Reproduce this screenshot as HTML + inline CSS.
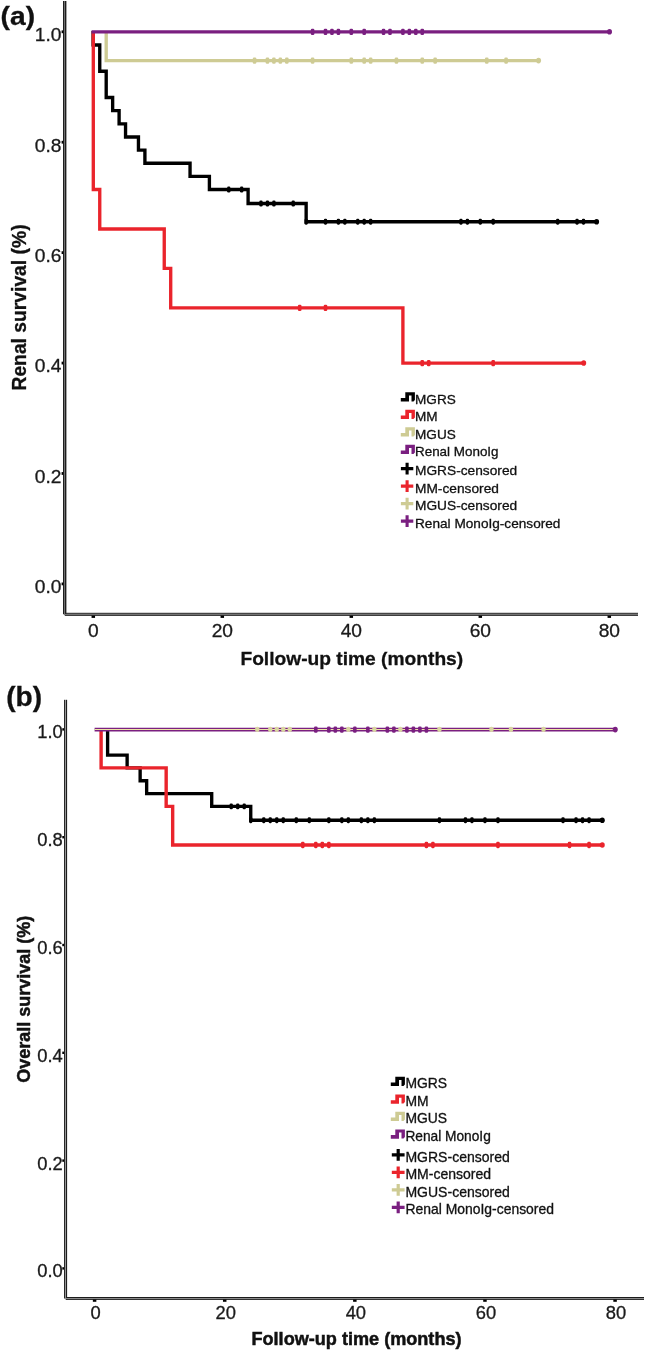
<!DOCTYPE html>
<html lang="en"><head><meta charset="utf-8"><title>Kaplan-Meier survival curves</title>
<style>html,body{margin:0;padding:0;background:#fff}svg{display:block;will-change:transform}text{font-family:"Liberation Sans",Arial,sans-serif}</style>
</head><body>
<svg width="645" height="1350" viewBox="0 0 645 1350">
<rect width="645" height="1350" fill="#fff"/>
<g>
<rect x="64.05" y="1" width="0.95" height="613.70" fill="#707070"/>
<rect x="64.05" y="613.80" width="573.95" height="0.9" fill="#707070"/>
<rect x="63.00" y="1" width="1.05" height="613.25" fill="#1e1e1e"/>
<rect x="64.75" y="614.70" width="573.25" height="1.15" fill="#1e1e1e"/>
<rect x="65.00" y="1" width="1.4" height="612.80" fill="#1e1e1e"/>
<rect x="65.00" y="612.80" width="573.00" height="1.0" fill="#1e1e1e"/>
</g>
<rect x="61.6" y="30.40" width="1.6" height="2.8" fill="#000"/>
<text transform="translate(61.4,41.2)" font-size="19.2" text-anchor="end" stroke="#1a1a1a" stroke-width="0.3" fill="#1a1a1a">1.0</text>
<rect x="61.6" y="140.82" width="1.6" height="2.8" fill="#000"/>
<text transform="translate(61.4,151.62)" font-size="19.2" text-anchor="end" stroke="#1a1a1a" stroke-width="0.3" fill="#1a1a1a">0.8</text>
<rect x="61.6" y="251.24" width="1.6" height="2.8" fill="#000"/>
<text transform="translate(61.4,262.04)" font-size="19.2" text-anchor="end" stroke="#1a1a1a" stroke-width="0.3" fill="#1a1a1a">0.6</text>
<rect x="61.6" y="361.66" width="1.6" height="2.8" fill="#000"/>
<text transform="translate(61.4,372.46)" font-size="19.2" text-anchor="end" stroke="#1a1a1a" stroke-width="0.3" fill="#1a1a1a">0.4</text>
<rect x="61.6" y="472.08" width="1.6" height="2.8" fill="#000"/>
<text transform="translate(61.4,482.88)" font-size="19.2" text-anchor="end" stroke="#1a1a1a" stroke-width="0.3" fill="#1a1a1a">0.2</text>
<rect x="61.6" y="582.50" width="1.6" height="2.8" fill="#000"/>
<text transform="translate(61.4,593.3)" font-size="19.2" text-anchor="end" stroke="#1a1a1a" stroke-width="0.3" fill="#1a1a1a">0.0</text>
<rect x="91.55" y="615.6" width="3.5" height="2.3" fill="#000"/>
<text transform="translate(93.3,636.6)" font-size="19.2" text-anchor="middle" stroke="#1a1a1a" stroke-width="0.3" fill="#1a1a1a">0</text>
<rect x="220.55" y="615.6" width="3.5" height="2.3" fill="#000"/>
<text transform="translate(222.3,636.6)" font-size="19.2" text-anchor="middle" stroke="#1a1a1a" stroke-width="0.3" fill="#1a1a1a">20</text>
<rect x="349.55" y="615.6" width="3.5" height="2.3" fill="#000"/>
<text transform="translate(351.3,636.6)" font-size="19.2" text-anchor="middle" stroke="#1a1a1a" stroke-width="0.3" fill="#1a1a1a">40</text>
<rect x="478.55" y="615.6" width="3.5" height="2.3" fill="#000"/>
<text transform="translate(480.3,636.6)" font-size="19.2" text-anchor="middle" stroke="#1a1a1a" stroke-width="0.3" fill="#1a1a1a">60</text>
<rect x="607.55" y="615.6" width="3.5" height="2.3" fill="#000"/>
<text transform="translate(609.3,636.6)" font-size="19.2" text-anchor="middle" stroke="#1a1a1a" stroke-width="0.3" fill="#1a1a1a">80</text>
<text transform="translate(0.6,25.1) scale(1.1,1)" font-size="25.6" font-weight="bold" stroke="#111" stroke-width="0.3" fill="#111">(a)</text>
<text transform="translate(26.2,307.5) rotate(-90)" font-size="19.3" text-anchor="middle" font-weight="bold" stroke="#111" stroke-width="0.3" fill="#111">Renal survival (%)</text>
<text transform="translate(351.8,665.0)" font-size="19.2" text-anchor="middle" font-weight="bold" stroke="#111" stroke-width="0.3" fill="#111">Follow-up time (months)</text>
<path d="M93.10 31.00V46.55" fill="none" stroke="#000000" stroke-width="3.35"/>
<path d="M92.98 44.95H99.75V71.24H106.20V97.53H112.65V110.67H119.10V123.82H125.55V136.96H138.45V150.11H144.90V163.25H190.05V176.40H209.40V189.54H248.10V203.50H306.15V221.72H596.40" fill="none" stroke="#000000" stroke-width="3.35"/>
<rect x="227.10" y="186.59" width="3.3" height="5.9" rx="1.3" fill="#000000"/>
<rect x="240.00" y="186.59" width="3.3" height="5.9" rx="1.3" fill="#000000"/>
<rect x="259.35" y="200.55" width="3.3" height="5.9" rx="1.3" fill="#000000"/>
<rect x="265.80" y="200.55" width="3.3" height="5.9" rx="1.3" fill="#000000"/>
<rect x="272.25" y="200.55" width="3.3" height="5.9" rx="1.3" fill="#000000"/>
<rect x="291.60" y="200.55" width="3.3" height="5.9" rx="1.3" fill="#000000"/>
<rect x="304.50" y="218.77" width="3.3" height="5.9" rx="1.3" fill="#000000"/>
<rect x="323.85" y="218.77" width="3.3" height="5.9" rx="1.3" fill="#000000"/>
<rect x="336.75" y="218.77" width="3.3" height="5.9" rx="1.3" fill="#000000"/>
<rect x="343.20" y="218.77" width="3.3" height="5.9" rx="1.3" fill="#000000"/>
<rect x="356.10" y="218.77" width="3.3" height="5.9" rx="1.3" fill="#000000"/>
<rect x="362.55" y="218.77" width="3.3" height="5.9" rx="1.3" fill="#000000"/>
<rect x="369.00" y="218.77" width="3.3" height="5.9" rx="1.3" fill="#000000"/>
<rect x="459.30" y="218.77" width="3.3" height="5.9" rx="1.3" fill="#000000"/>
<rect x="465.75" y="218.77" width="3.3" height="5.9" rx="1.3" fill="#000000"/>
<rect x="478.65" y="218.77" width="3.3" height="5.9" rx="1.3" fill="#000000"/>
<rect x="491.55" y="218.77" width="3.3" height="5.9" rx="1.3" fill="#000000"/>
<rect x="556.05" y="218.77" width="3.3" height="5.9" rx="1.3" fill="#000000"/>
<rect x="575.40" y="218.77" width="3.3" height="5.9" rx="1.3" fill="#000000"/>
<rect x="581.85" y="218.77" width="3.3" height="5.9" rx="1.3" fill="#000000"/>
<ellipse cx="596.60" cy="221.72" rx="2.5" ry="2.8" fill="#000000"/>
<path d="M93.30 31.80H93.30V189.54H99.75V228.98H164.25V268.41H170.70V307.85H402.90V363.06H583.50" fill="none" stroke="#ea242c" stroke-width="3.35"/>
<rect x="297.90" y="304.70" width="3.6" height="6.3" rx="1.3" fill="#ea242c"/>
<rect x="323.70" y="304.70" width="3.6" height="6.3" rx="1.3" fill="#ea242c"/>
<rect x="420.45" y="359.91" width="3.6" height="6.3" rx="1.3" fill="#ea242c"/>
<rect x="426.90" y="359.91" width="3.6" height="6.3" rx="1.3" fill="#ea242c"/>
<rect x="491.40" y="359.91" width="3.6" height="6.3" rx="1.3" fill="#ea242c"/>
<ellipse cx="583.70" cy="363.06" rx="2.5" ry="2.8" fill="#ea242c"/>
<path d="M106.20 32.80V60.60H538.35" fill="none" stroke="#cecb94" stroke-width="3.35"/>
<rect x="252.75" y="57.45" width="3.6" height="6.3" rx="1.3" fill="#cecb94"/>
<rect x="265.65" y="57.45" width="3.6" height="6.3" rx="1.3" fill="#cecb94"/>
<rect x="272.10" y="57.45" width="3.6" height="6.3" rx="1.3" fill="#cecb94"/>
<rect x="278.55" y="57.45" width="3.6" height="6.3" rx="1.3" fill="#cecb94"/>
<rect x="285.00" y="57.45" width="3.6" height="6.3" rx="1.3" fill="#cecb94"/>
<rect x="310.80" y="57.45" width="3.6" height="6.3" rx="1.3" fill="#cecb94"/>
<rect x="349.50" y="57.45" width="3.6" height="6.3" rx="1.3" fill="#cecb94"/>
<rect x="362.40" y="57.45" width="3.6" height="6.3" rx="1.3" fill="#cecb94"/>
<rect x="368.85" y="57.45" width="3.6" height="6.3" rx="1.3" fill="#cecb94"/>
<rect x="394.65" y="57.45" width="3.6" height="6.3" rx="1.3" fill="#cecb94"/>
<rect x="420.45" y="57.45" width="3.6" height="6.3" rx="1.3" fill="#cecb94"/>
<rect x="433.35" y="57.45" width="3.6" height="6.3" rx="1.3" fill="#cecb94"/>
<rect x="484.95" y="57.45" width="3.6" height="6.3" rx="1.3" fill="#cecb94"/>
<rect x="504.30" y="57.45" width="3.6" height="6.3" rx="1.3" fill="#cecb94"/>
<ellipse cx="538.55" cy="60.60" rx="2.5" ry="2.8" fill="#cecb94"/>
<path d="M91.60 31.80H609.30" fill="none" stroke="#7a1f80" stroke-width="3.35"/>
<rect x="310.80" y="28.65" width="3.6" height="6.3" rx="1.3" fill="#7a1f80"/>
<rect x="323.70" y="28.65" width="3.6" height="6.3" rx="1.3" fill="#7a1f80"/>
<rect x="330.15" y="28.65" width="3.6" height="6.3" rx="1.3" fill="#7a1f80"/>
<rect x="336.60" y="28.65" width="3.6" height="6.3" rx="1.3" fill="#7a1f80"/>
<rect x="349.50" y="28.65" width="3.6" height="6.3" rx="1.3" fill="#7a1f80"/>
<rect x="362.40" y="28.65" width="3.6" height="6.3" rx="1.3" fill="#7a1f80"/>
<rect x="381.75" y="28.65" width="3.6" height="6.3" rx="1.3" fill="#7a1f80"/>
<rect x="388.20" y="28.65" width="3.6" height="6.3" rx="1.3" fill="#7a1f80"/>
<rect x="401.10" y="28.65" width="3.6" height="6.3" rx="1.3" fill="#7a1f80"/>
<rect x="407.55" y="28.65" width="3.6" height="6.3" rx="1.3" fill="#7a1f80"/>
<rect x="414.00" y="28.65" width="3.6" height="6.3" rx="1.3" fill="#7a1f80"/>
<rect x="420.45" y="28.65" width="3.6" height="6.3" rx="1.3" fill="#7a1f80"/>
<ellipse cx="609.50" cy="31.80" rx="2.5" ry="2.8" fill="#7a1f80"/>
<polygon points="400.80,398.00 405.30,398.00 405.30,392.30 414.90,392.30 414.90,399.90 413.50,401.40 411.50,401.40 411.50,395.50 409.00,395.50 409.00,401.60 400.80,401.60" fill="#000000"/>
<text transform="translate(415.0,403.8)" font-size="13.6" stroke="#111" stroke-width="0.3" fill="#111">MGRS</text>
<polygon points="400.80,415.50 405.30,415.50 405.30,409.80 414.90,409.80 414.90,417.40 413.50,418.90 411.50,418.90 411.50,413.00 409.00,413.00 409.00,419.10 400.80,419.10" fill="#ea242c"/>
<text transform="translate(415.0,421.3)" font-size="13.6" stroke="#111" stroke-width="0.3" fill="#111">MM</text>
<polygon points="400.80,433.00 405.30,433.00 405.30,427.30 414.90,427.30 414.90,434.90 413.50,436.40 411.50,436.40 411.50,430.50 409.00,430.50 409.00,436.60 400.80,436.60" fill="#cecb94"/>
<text transform="translate(415.0,438.8)" font-size="13.6" stroke="#111" stroke-width="0.3" fill="#111">MGUS</text>
<polygon points="400.80,450.50 405.30,450.50 405.30,444.80 414.90,444.80 414.90,452.40 413.50,453.90 411.50,453.90 411.50,448.00 409.00,448.00 409.00,454.10 400.80,454.10" fill="#7a1f80"/>
<text transform="translate(415.0,456.3) scale(0.988,1)" font-size="13.6" stroke="#111" stroke-width="0.3" fill="#111">Renal MonoIg</text>
<path d="M400.90 468.60H413.30M407.10 462.80V474.40" stroke="#000000" stroke-width="3.10" fill="none"/>
<text transform="translate(415.0,475.2) scale(1.01,1)" font-size="13.6" stroke="#111" stroke-width="0.3" fill="#111">MGRS-censored</text>
<path d="M400.90 486.10H413.30M407.10 480.30V491.90" stroke="#ea242c" stroke-width="3.10" fill="none"/>
<text transform="translate(415.0,492.7) scale(1.01,1)" font-size="13.6" stroke="#111" stroke-width="0.3" fill="#111">MM-censored</text>
<path d="M400.90 503.60H413.30M407.10 497.80V509.40" stroke="#cecb94" stroke-width="3.10" fill="none"/>
<text transform="translate(415.0,510.2) scale(1.01,1)" font-size="13.6" stroke="#111" stroke-width="0.3" fill="#111">MGUS-censored</text>
<path d="M400.90 521.10H413.30M407.10 515.30V526.90" stroke="#7a1f80" stroke-width="3.10" fill="none"/>
<text transform="translate(415.0,527.7) scale(1.002,1)" font-size="13.6" stroke="#111" stroke-width="0.3" fill="#111">Renal MonoIg-censored</text>
<g>
<rect x="65.00" y="699.8" width="0.9" height="598.95" fill="#9a9a9a"/>
<rect x="65.00" y="1298.05" width="579.00" height="0.7" fill="#9a9a9a"/>
<rect x="64.05" y="699.8" width="0.95" height="598.70" fill="#1c1c1c"/>
<rect x="65.70" y="1298.75" width="578.30" height="1.15" fill="#1c1c1c"/>
<rect x="65.90" y="699.8" width="1.2" height="598.25" fill="#1c1c1c"/>
<rect x="65.90" y="1297.00" width="578.10" height="1.05" fill="#1c1c1c"/>
</g>
<rect x="62.3" y="728.20" width="1.7" height="2.4" fill="#000"/>
<text transform="translate(62.8,738.4) scale(1.02,1)" font-size="18.0" text-anchor="end" stroke="#1a1a1a" stroke-width="0.3" fill="#1a1a1a">1.0</text>
<rect x="62.3" y="836.00" width="1.7" height="2.4" fill="#000"/>
<text transform="translate(62.8,846.2) scale(1.02,1)" font-size="18.0" text-anchor="end" stroke="#1a1a1a" stroke-width="0.3" fill="#1a1a1a">0.8</text>
<rect x="62.3" y="943.80" width="1.7" height="2.4" fill="#000"/>
<text transform="translate(62.8,954.0) scale(1.02,1)" font-size="18.0" text-anchor="end" stroke="#1a1a1a" stroke-width="0.3" fill="#1a1a1a">0.6</text>
<rect x="62.3" y="1051.60" width="1.7" height="2.4" fill="#000"/>
<text transform="translate(62.8,1061.8) scale(1.02,1)" font-size="18.0" text-anchor="end" stroke="#1a1a1a" stroke-width="0.3" fill="#1a1a1a">0.4</text>
<rect x="62.3" y="1159.40" width="1.7" height="2.4" fill="#000"/>
<text transform="translate(62.8,1169.6) scale(1.02,1)" font-size="18.0" text-anchor="end" stroke="#1a1a1a" stroke-width="0.3" fill="#1a1a1a">0.2</text>
<rect x="62.3" y="1267.20" width="1.7" height="2.4" fill="#000"/>
<text transform="translate(62.8,1277.4) scale(1.02,1)" font-size="18.0" text-anchor="end" stroke="#1a1a1a" stroke-width="0.3" fill="#1a1a1a">0.0</text>
<rect x="92.85" y="1299.5" width="3.5" height="2.3" fill="#000"/>
<text transform="translate(95.6,1319.0) scale(1.02,1)" font-size="18.0" text-anchor="middle" stroke="#1a1a1a" stroke-width="0.3" fill="#1a1a1a">0</text>
<rect x="222.97" y="1299.5" width="3.5" height="2.3" fill="#000"/>
<text transform="translate(225.72,1319.0) scale(1.02,1)" font-size="18.0" text-anchor="middle" stroke="#1a1a1a" stroke-width="0.3" fill="#1a1a1a">20</text>
<rect x="353.09" y="1299.5" width="3.5" height="2.3" fill="#000"/>
<text transform="translate(355.84,1319.0) scale(1.02,1)" font-size="18.0" text-anchor="middle" stroke="#1a1a1a" stroke-width="0.3" fill="#1a1a1a">40</text>
<rect x="483.21" y="1299.5" width="3.5" height="2.3" fill="#000"/>
<text transform="translate(485.96,1319.0) scale(1.02,1)" font-size="18.0" text-anchor="middle" stroke="#1a1a1a" stroke-width="0.3" fill="#1a1a1a">60</text>
<rect x="613.33" y="1299.5" width="3.5" height="2.3" fill="#000"/>
<text transform="translate(616.08,1319.0) scale(1.02,1)" font-size="18.0" text-anchor="middle" stroke="#1a1a1a" stroke-width="0.3" fill="#1a1a1a">80</text>
<text transform="translate(6.2,705.5) scale(1.04,1)" font-size="27" font-weight="bold" stroke="#111" stroke-width="0.3" fill="#111">(b)</text>
<text transform="translate(30.1,999.3) rotate(-90)" font-size="18.0" text-anchor="middle" font-weight="bold" stroke="#111" stroke-width="0.5" fill="#111">Overall survival (%)</text>
<text transform="translate(356.5,1344.8)" font-size="18.1" text-anchor="middle" font-weight="bold" stroke="#111" stroke-width="0.5" fill="#111">Follow-up time (months)</text>
<path d="M107.61 729.40V755.07H127.13V767.90H140.14V780.73H146.65V793.57H211.71V806.40H250.74V820.20H602.07" fill="none" stroke="#000000" stroke-width="3.35"/>
<rect x="229.58" y="803.45" width="3.3" height="5.9" rx="1.3" fill="#000000"/>
<rect x="236.08" y="803.45" width="3.3" height="5.9" rx="1.3" fill="#000000"/>
<rect x="242.59" y="803.45" width="3.3" height="5.9" rx="1.3" fill="#000000"/>
<rect x="249.09" y="817.25" width="3.3" height="5.9" rx="1.3" fill="#000000"/>
<rect x="262.11" y="817.25" width="3.3" height="5.9" rx="1.3" fill="#000000"/>
<rect x="268.61" y="817.25" width="3.3" height="5.9" rx="1.3" fill="#000000"/>
<rect x="275.12" y="817.25" width="3.3" height="5.9" rx="1.3" fill="#000000"/>
<rect x="281.62" y="817.25" width="3.3" height="5.9" rx="1.3" fill="#000000"/>
<rect x="294.64" y="817.25" width="3.3" height="5.9" rx="1.3" fill="#000000"/>
<rect x="307.65" y="817.25" width="3.3" height="5.9" rx="1.3" fill="#000000"/>
<rect x="327.17" y="817.25" width="3.3" height="5.9" rx="1.3" fill="#000000"/>
<rect x="340.18" y="817.25" width="3.3" height="5.9" rx="1.3" fill="#000000"/>
<rect x="346.68" y="817.25" width="3.3" height="5.9" rx="1.3" fill="#000000"/>
<rect x="359.70" y="817.25" width="3.3" height="5.9" rx="1.3" fill="#000000"/>
<rect x="366.20" y="817.25" width="3.3" height="5.9" rx="1.3" fill="#000000"/>
<rect x="372.71" y="817.25" width="3.3" height="5.9" rx="1.3" fill="#000000"/>
<rect x="437.77" y="817.25" width="3.3" height="5.9" rx="1.3" fill="#000000"/>
<rect x="463.79" y="817.25" width="3.3" height="5.9" rx="1.3" fill="#000000"/>
<rect x="470.30" y="817.25" width="3.3" height="5.9" rx="1.3" fill="#000000"/>
<rect x="483.31" y="817.25" width="3.3" height="5.9" rx="1.3" fill="#000000"/>
<rect x="496.32" y="817.25" width="3.3" height="5.9" rx="1.3" fill="#000000"/>
<rect x="561.38" y="817.25" width="3.3" height="5.9" rx="1.3" fill="#000000"/>
<rect x="574.39" y="817.25" width="3.3" height="5.9" rx="1.3" fill="#000000"/>
<rect x="580.90" y="817.25" width="3.3" height="5.9" rx="1.3" fill="#000000"/>
<rect x="587.41" y="817.25" width="3.3" height="5.9" rx="1.3" fill="#000000"/>
<ellipse cx="602.27" cy="820.20" rx="2.5" ry="2.8" fill="#000000"/>
<path d="M101.11 729.40V767.90H166.17V806.40H172.67V845.00H602.07" fill="none" stroke="#ea242c" stroke-width="3.4"/>
<rect x="300.99" y="841.85" width="3.6" height="6.3" rx="1.3" fill="#ea242c"/>
<rect x="314.00" y="841.85" width="3.6" height="6.3" rx="1.3" fill="#ea242c"/>
<rect x="320.51" y="841.85" width="3.6" height="6.3" rx="1.3" fill="#ea242c"/>
<rect x="327.02" y="841.85" width="3.6" height="6.3" rx="1.3" fill="#ea242c"/>
<rect x="424.61" y="841.85" width="3.6" height="6.3" rx="1.3" fill="#ea242c"/>
<rect x="431.11" y="841.85" width="3.6" height="6.3" rx="1.3" fill="#ea242c"/>
<rect x="496.17" y="841.85" width="3.6" height="6.3" rx="1.3" fill="#ea242c"/>
<rect x="567.74" y="841.85" width="3.6" height="6.3" rx="1.3" fill="#ea242c"/>
<rect x="587.26" y="841.85" width="3.6" height="6.3" rx="1.3" fill="#ea242c"/>
<ellipse cx="602.27" cy="845.00" rx="2.5" ry="2.8" fill="#ea242c"/>
<path d="M94.60 729.60H615.08" fill="none" stroke="#7a1f80" stroke-width="3.7"/>
<path d="M94.60 729.50H613.08" fill="none" stroke="#eee7a6" stroke-width="1.15"/>
<rect x="314.00" y="726.45" width="3.6" height="6.3" rx="1.3" fill="#7a1f80"/>
<rect x="327.02" y="726.45" width="3.6" height="6.3" rx="1.3" fill="#7a1f80"/>
<rect x="333.52" y="726.45" width="3.6" height="6.3" rx="1.3" fill="#7a1f80"/>
<rect x="340.03" y="726.45" width="3.6" height="6.3" rx="1.3" fill="#7a1f80"/>
<rect x="353.04" y="726.45" width="3.6" height="6.3" rx="1.3" fill="#7a1f80"/>
<rect x="366.05" y="726.45" width="3.6" height="6.3" rx="1.3" fill="#7a1f80"/>
<rect x="385.57" y="726.45" width="3.6" height="6.3" rx="1.3" fill="#7a1f80"/>
<rect x="392.08" y="726.45" width="3.6" height="6.3" rx="1.3" fill="#7a1f80"/>
<rect x="405.09" y="726.45" width="3.6" height="6.3" rx="1.3" fill="#7a1f80"/>
<rect x="411.59" y="726.45" width="3.6" height="6.3" rx="1.3" fill="#7a1f80"/>
<rect x="418.10" y="726.45" width="3.6" height="6.3" rx="1.3" fill="#7a1f80"/>
<rect x="424.61" y="726.45" width="3.6" height="6.3" rx="1.3" fill="#7a1f80"/>
<ellipse cx="615.28" cy="729.60" rx="2.5" ry="2.8" fill="#7a1f80"/>
<rect x="255.05" y="726.80" width="4.4" height="5.2" rx="2.0" fill="#d9d5a0"/>
<rect x="268.06" y="726.80" width="4.4" height="5.2" rx="2.0" fill="#d9d5a0"/>
<rect x="274.57" y="726.80" width="4.4" height="5.2" rx="2.0" fill="#d9d5a0"/>
<rect x="281.07" y="726.80" width="4.4" height="5.2" rx="2.0" fill="#d9d5a0"/>
<rect x="287.58" y="726.80" width="4.4" height="5.2" rx="2.0" fill="#d9d5a0"/>
<rect x="346.13" y="726.80" width="4.4" height="5.2" rx="2.0" fill="#d9d5a0"/>
<rect x="372.16" y="726.80" width="4.4" height="5.2" rx="2.0" fill="#d9d5a0"/>
<rect x="398.18" y="726.80" width="4.4" height="5.2" rx="2.0" fill="#d9d5a0"/>
<rect x="437.22" y="726.80" width="4.4" height="5.2" rx="2.0" fill="#d9d5a0"/>
<rect x="489.27" y="726.80" width="4.4" height="5.2" rx="2.0" fill="#d9d5a0"/>
<rect x="508.78" y="726.80" width="4.4" height="5.2" rx="2.0" fill="#d9d5a0"/>
<rect x="541.31" y="726.80" width="4.4" height="5.2" rx="2.0" fill="#d9d5a0"/>
<polygon points="390.80,1082.50 395.30,1082.50 395.30,1076.80 404.90,1076.80 404.90,1084.40 403.50,1085.90 401.50,1085.90 401.50,1080.00 399.00,1080.00 399.00,1086.10 390.80,1086.10" fill="#000000"/>
<text transform="translate(405.4,1088.0)" font-size="13.9" stroke="#111" stroke-width="0.3" fill="#111">MGRS</text>
<polygon points="390.80,1100.20 395.30,1100.20 395.30,1094.50 404.90,1094.50 404.90,1102.10 403.50,1103.60 401.50,1103.60 401.50,1097.70 399.00,1097.70 399.00,1103.80 390.80,1103.80" fill="#ea242c"/>
<text transform="translate(405.4,1105.7)" font-size="13.9" stroke="#111" stroke-width="0.3" fill="#111">MM</text>
<polygon points="390.80,1117.50 395.30,1117.50 395.30,1111.80 404.90,1111.80 404.90,1119.40 403.50,1120.90 401.50,1120.90 401.50,1115.00 399.00,1115.00 399.00,1121.10 390.80,1121.10" fill="#cecb94"/>
<text transform="translate(405.4,1123.0)" font-size="13.9" stroke="#111" stroke-width="0.3" fill="#111">MGUS</text>
<polygon points="390.80,1135.10 395.30,1135.10 395.30,1129.40 404.90,1129.40 404.90,1137.00 403.50,1138.50 401.50,1138.50 401.50,1132.60 399.00,1132.60 399.00,1138.70 390.80,1138.70" fill="#7a1f80"/>
<text transform="translate(405.4,1140.6) scale(0.988,1)" font-size="13.9" stroke="#111" stroke-width="0.3" fill="#111">Renal MonoIg</text>
<path d="M391.81 1154.90H404.59M398.20 1148.93V1160.87" stroke="#000000" stroke-width="3.19" fill="none"/>
<text transform="translate(405.4,1161.5) scale(1.01,1)" font-size="13.9" stroke="#111" stroke-width="0.3" fill="#111">MGRS-censored</text>
<path d="M391.81 1172.40H404.59M398.20 1166.43V1178.37" stroke="#ea242c" stroke-width="3.19" fill="none"/>
<text transform="translate(405.4,1179.0) scale(1.01,1)" font-size="13.9" stroke="#111" stroke-width="0.3" fill="#111">MM-censored</text>
<path d="M391.81 1189.90H404.59M398.20 1183.93V1195.87" stroke="#cecb94" stroke-width="3.19" fill="none"/>
<text transform="translate(405.4,1196.5) scale(1.01,1)" font-size="13.9" stroke="#111" stroke-width="0.3" fill="#111">MGUS-censored</text>
<path d="M391.81 1207.40H404.59M398.20 1201.43V1213.37" stroke="#7a1f80" stroke-width="3.19" fill="none"/>
<text transform="translate(405.4,1214.0) scale(1.002,1)" font-size="13.9" stroke="#111" stroke-width="0.3" fill="#111">Renal MonoIg-censored</text>
</svg>
</body></html>
